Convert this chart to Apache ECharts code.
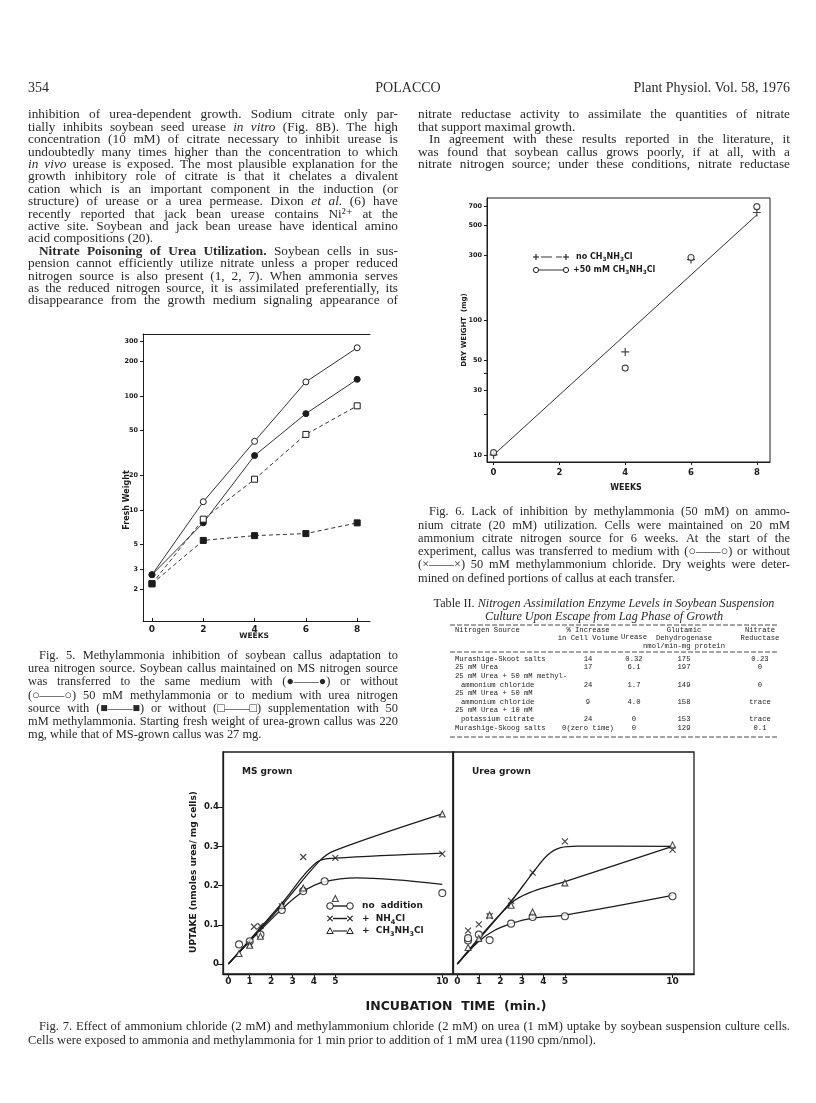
<!DOCTYPE html>
<html><head><meta charset="utf-8">
<script src="https://cdn.jsdelivr.net/npm/echarts@6/dist/echarts.min.js"></script>
<style>html,body{margin:0;padding:0;background:#fff}#c{width:816px;height:1103px}</style>
</head><body><div id="c"></div>
<script>
// ================= DATA =================
const fig5Weeks = [0, 2, 4, 6, 8];
const fig5MSwithMA = [2.7, 7.7, 30, 70, 140];
const fig5MSwithoutMA = [2.7, 11.8, 40, 133, 265];
const fig5UreaWithMA = [2.25, 5.4, 5.95, 6.2, 7.7];
const fig5UreaWithoutMA = [2.25, 8.3, 18.6, 46, 82];
const fig5XTicks = [0, 2, 4, 6, 8];
const fig5YTicks = [2, 3, 5, 10, 20, 50, 100, 200, 300];

const fig6Weeks = [0, 4, 6, 8];
const fig6NoMA = [10, 58, 280, 625];
const fig6WithMA = [10.4, 44, 290, 690];
const fig6FitWeeks = [0, 8];
const fig6FitDry = [10, 600];
const fig6XTicks = [0, 2, 4, 6, 8];
const fig6YLabels = [10, 30, 50, 100, 300, 500, 700];
const fig6YTicks = [10, 20, 30, 40, 50, 100, 300, 500, 700];

const fig7XTicks = [0, 1, 2, 3, 4, 5, 10];
const fig7YTicks = [0, 0.1, 0.2, 0.3, 0.4];
const msNoAddT = [0.5, 1, 1.5, 2.5, 3.5, 4.5, 10];
const msNoAddV = [0.05, 0.058, 0.075, 0.138, 0.186, 0.211, 0.181];
const msNH4T = [1, 1.2, 1.5, 2.5, 3.5, 5, 10];
const msNH4V = [0.05, 0.095, 0.097, 0.147, 0.273, 0.271, 0.281];
const msMAT = [0.5, 1, 1.5, 2.5, 3.5, 5, 10];
const msMAV = [0.027, 0.048, 0.071, 0.15, 0.194, 0.167, 0.383];
const msNoAddCurveT = [0, 1, 2.5, 3.5, 4.5, 6, 10];
const msNoAddCurveV = [0, 0.058, 0.14, 0.185, 0.21, 0.22, 0.203];
const msNH4CurveT = [0, 2.5, 4.2, 5, 10];
const msNH4CurveV = [0, 0.155, 0.262, 0.27, 0.283];
const msMACurveT = [0, 2.5, 4.3, 5, 10];
const msMACurveV = [0, 0.15, 0.265, 0.29, 0.383];
const urNoAddT = [0.5, 0.5, 1, 1.5, 2.5, 3.5, 5, 10];
const urNoAddV = [0.06, 0.066, 0.075, 0.061, 0.103, 0.12, 0.122, 0.173];
const urNH4T = [0.5, 1, 1.5, 2.5, 3.5, 5, 10];
const urNH4V = [0.085, 0.101, 0.122, 0.161, 0.233, 0.313, 0.292];
const urMAT = [0.5, 1, 1.5, 2.5, 3.5, 5, 10];
const urMAV = [0.042, 0.065, 0.125, 0.15, 0.133, 0.207, 0.304];
const urNoAddCurveT = [0, 1, 1.7, 2.5, 3.5, 5, 10];
const urNoAddCurveV = [0, 0.058, 0.085, 0.103, 0.117, 0.125, 0.175];
const urNH4CurveT = [0, 2.5, 3.5, 4.2, 4.8, 5.6, 10];
const urNH4CurveV = [0, 0.16, 0.232, 0.278, 0.297, 0.301, 0.3];
const urMACurveT = [0, 2.5, 3.5, 5, 10];
const urMACurveV = [0, 0.155, 0.185, 0.21, 0.3];

const tblSources = [["Murashige-Skoot salts"], ["25 mM Urea"], ["25 mM Urea + 50 mM methyl-", "ammonium chloride"], ["25 mM Urea + 50 mM", "ammonium chloride"], ["25 mM Urea + 10 mM", "potassium citrate"], ["Murashige-Skoog salts"]];
const tblIncrease = ["14", "17", "24", "9", "24", "0(zero time)"];
const tblUrease = ["0.32", "6.1", "1.7", "4.0", "0", "0"];
const tblGDH = ["175", "197", "149", "158", "153", "129"];
const tblNR = ["0.23", "0", "0", "trace", "trace", "0.1"];

// ================= STYLE / LAYOUT =================
const INK = '#1c1c1c';
const TXT = '#2a2a2a';
const SERIF = '"Liberation Serif", "Times New Roman", "DejaVu Serif", serif';
const SANSB = '"DejaVu Sans", "Liberation Sans", sans-serif';
const MONO = '"Liberation Mono", "DejaVu Sans Mono", monospace';

function pairs(xs, ys) { return xs.map((x, i) => [x, ys[i]]); }

const mc = document.createElement('canvas').getContext('2d');
function fnt(st, size) { return (st === 'i' ? 'italic ' : '') + (st === 'b' ? 'bold ' : '') + size.toFixed(2) + 'px ' + SERIF; }
function measure(t, f) { mc.font = f; return mc.measureText(t).width; }
function tokens(line) {
  const out = []; const re = /\{([ib]):([^}]*)\}|([^{}]+)/g; let m;
  while ((m = re.exec(line))) {
    const st = m[1] || 'n'; const t = m[1] ? m[2] : m[3];
    t.split(' ').forEach(w => { if (w !== '') out.push({ w, st }); });
  }
  return out;
}
const G = [];
function txt(x, y, text, font, align, rot, color) {
  const e = { type: 'text', x, y, silent: true, style: { text, font, fill: color || INK, align: align || 'left', verticalAlign: 'middle' } };
  if (rot) e.rotation = rot;
  G.push(e); return e;
}
function block(lines, x0, y0, pitch, width, base) {
  let scale = 1;
  lines.forEach(l => {
    const tk = tokens(l[0]);
    const nat = (l[1] || 0) + tk.reduce((s, t) => s + measure(t.w, fnt(t.st, base)), 0) + (tk.length - 1) * measure(' ', fnt('n', base));
    if (!l[2]) scale = Math.min(scale, (width - 1) / nat);
  });
  const size = base * Math.min(1, scale);
  const sp = measure(' ', fnt('n', size));
  lines.forEach((l, i) => {
    const tk = tokens(l[0]);
    const ws = tk.map(t => measure(t.w, fnt(t.st, size)));
    const ind = l[1] || 0;
    const sum = ws.reduce((a, b) => a + b, 0);
    const gap = (l[2] || tk.length < 2) ? sp : (width - ind - sum) / (tk.length - 1);
    let x = x0 + ind; const y = y0 + i * pitch;
    tk.forEach((t, j) => { txt(x, y, t.w, fnt(t.st, size), 'left', 0, TXT); x += ws[j] + gap; });
  });
}
function centered(line, cx, y, size) {
  const tk = tokens(line); const sp = measure(' ', fnt('n', size));
  const ws = tk.map(t => measure(t.w, fnt(t.st, size)));
  const tot = ws.reduce((a, b) => a + b, 0) + sp * (tk.length - 1);
  let x = cx - tot / 2;
  tk.forEach((t, j) => { txt(x, y, t.w, fnt(t.st, size), 'left', 0, TXT); x += ws[j] + sp; });
}

// ---------- page header ----------
txt(28, 88, '354', '14px ' + SERIF, 'left', 0, TXT);
txt(408, 88, 'POLACCO', '14px ' + SERIF, 'center', 0, TXT);
txt(790, 88, 'Plant Physiol. Vol. 58, 1976', '14px ' + SERIF, 'right', 0, TXT);

// ---------- body text ----------
const leftBody = [
  ['inhibition of urea-dependent growth. Sodium citrate only par-'],
  ['tially inhibits soybean seed urease {i:in vitro} (Fig. 8B). The high'],
  ['concentration (10 mM) of citrate necessary to inhibit urease is'],
  ['undoubtedly many times higher than the concentration to which'],
  ['{i:in vivo} urease is exposed. The most plausible explanation for the'],
  ['growth inhibitory role of citrate is that it chelates a divalent'],
  ['cation which is an important component in the induction (or'],
  ['structure) of urease or a urea permease. Dixon {i:et al.} (6) have'],
  ['recently reported that jack bean urease contains Ni²⁺ at the'],
  ['active site. Soybean and jack bean urease have identical amino'],
  ['acid compositions (20).', 0, true],
  ['{b:Nitrate Poisoning of Urea Utilization.} Soybean cells in sus-', 11],
  ['pension cannot efficiently utilize nitrate unless a proper reduced'],
  ['nitrogen source is also present (1, 2, 7). When ammonia serves'],
  ['as the reduced nitrogen source, it is assimilated preferentially, its'],
  ['disappearance from the growth medium signaling appearance of']
];
const rightBody = [
  ['nitrate reductase activity to assimilate the quantities of nitrate'],
  ['that support maximal growth.', 0, true],
  ['In agreement with these results reported in the literature, it', 11],
  ['was found that soybean callus grows poorly, if at all, with a'],
  ['nitrate nitrogen source; under these conditions, nitrate reductase']
];
block(leftBody, 28, 115, 12.4, 370, 13.3);
block(rightBody, 418, 115, 12.4, 372, 13.3);

// ---------- captions ----------
const cap5 = [
  ['Fig. 5. Methylammonia inhibition of soybean callus adaptation to', 11],
  ['urea nitrogen source. Soybean callus maintained on MS nitrogen source'],
  ['was transferred to the same medium with (●——●) or without'],
  ['(○——○) 50 mM methylammonia or to medium with urea nitrogen'],
  ['source with (■——■) or without (□——□) supplementation with 50'],
  ['mM methylammonia. Starting fresh weight of urea-grown callus was 220'],
  ['mg, while that of MS-grown callus was 27 mg.', 0, true]
];
const cap6 = [
  ['Fig. 6. Lack of inhibition by methylammonia (50 mM) on ammo-', 11],
  ['nium citrate (20 mM) utilization. Cells were maintained on 20 mM'],
  ['ammonium citrate nitrogen source for 6 weeks. At the start of the'],
  ['experiment, callus was transferred to medium with (○——○) or without'],
  ['(×——×) 50 mM methylammonium chloride. Dry weights were deter-'],
  ['mined on defined portions of callus at each transfer.', 0, true]
];
const cap7 = [
  ['Fig. 7. Effect of ammonium chloride (2 mM) and methylammonium chloride (2 mM) on urea (1 mM) uptake by soybean suspension culture cells.', 11],
  ['Cells were exposed to ammonia and methylammonia for 1 min prior to addition of 1 mM urea (1190 cpm/nmol).', 0, true]
];
block(cap5, 28, 656, 13.1, 370, 12.4);
block(cap6, 418, 512, 13.3, 372, 12.4);
block(cap7, 28, 1027, 14, 762, 12.6);

// ---------- Table II ----------
centered('Table II. {i:Nitrogen} {i:Assimilation} {i:Enzyme} {i:Levels} {i:in} {i:Soybean} {i:Suspension}', 604, 604, 12.2);
centered('{i:Culture} {i:Upon} {i:Escape} {i:from} {i:Lag} {i:Phase} {i:of} {i:Growth}', 604, 617, 12.2);
const TF = '7.2px ' + MONO;
const tc = { name: 455, inc: 588, ure: 634, gdh: 684, nr: 760 };
function dashed(x1, x2, y) { G.push({ type: 'line', silent: true, shape: { x1, y1: y, x2, y2: y }, style: { stroke: INK, lineWidth: 0.8, lineDash: [5, 2] } }); }
dashed(450, 778, 625);
txt(tc.name, 630, 'Nitrogen Source', TF);
txt(tc.inc, 630, '% Increase', TF, 'center');
txt(tc.inc, 638, 'in Cell Volume', TF, 'center');
txt(tc.ure, 637, 'Urease', TF, 'center');
txt(tc.gdh, 630, 'Glutamic', TF, 'center');
txt(tc.gdh, 638, 'Dehydrogenase', TF, 'center');
txt(tc.gdh, 646, 'nmol/min-mg protein', TF, 'center');
txt(tc.nr, 630, 'Nitrate', TF, 'center');
txt(tc.nr, 638, 'Reductase', TF, 'center');
dashed(450, 778, 652);
let ry = 659;
tblSources.forEach((src, i) => {
  src.forEach((s, k) => {
    txt(tc.name + (k > 0 ? 6 : 0), ry, s, TF);
    if (k === src.length - 1) {
      txt(tc.inc, ry, tblIncrease[i], TF, 'center');
      txt(tc.ure, ry, tblUrease[i], TF, 'center');
      txt(tc.gdh, ry, tblGDH[i], TF, 'center');
      txt(tc.nr, ry, tblNR[i], TF, 'center');
    }
    ry += 8.6;
  });
});
dashed(450, 778, 737);

// ---------- axis titles / annotations ----------
txt(127, 500, 'Fresh Weight', 'bold 8px ' + SANSB, 'center', Math.PI / 2);
txt(254, 636, 'WEEKS', 'bold 7.5px ' + SANSB, 'center');
txt(464, 330, 'DRY WEIGHT  (mg)', 'bold 7px ' + SANSB, 'center', Math.PI / 2);
txt(626, 488, 'WEEKS', 'bold 8px ' + SANSB, 'center');
txt(194, 872, 'UPTAKE (nmoles urea/ mg cells)', 'bold 9px ' + SANSB, 'center', Math.PI / 2);
txt(456, 1007, 'INCUBATION  TIME  (min.)', 'bold 12.5px ' + SANSB, 'center');
txt(242, 772, 'MS grown', 'bold 9px ' + SANSB);
txt(472, 772, 'Urea grown', 'bold 9px ' + SANSB);

function gl(x1, y1, x2, y2, w) { G.push({ type: 'line', silent: true, shape: { x1, y1, x2, y2 }, style: { stroke: INK, lineWidth: w || 1 } }); }
function gc(cx, cy, r) { G.push({ type: 'circle', silent: true, shape: { cx, cy, r }, style: { fill: '#fff', stroke: INK, lineWidth: 1 } }); }
function gx(cx, cy, r) { gl(cx - r, cy - r, cx + r, cy + r, 1.1); gl(cx - r, cy + r, cx + r, cy - r, 1.1); }
function gp(cx, cy, r) { gl(cx - r, cy, cx + r, cy, 1.1); gl(cx, cy - r, cx, cy + r, 1.1); }
function gt(cx, cy, r) { G.push({ type: 'polygon', silent: true, shape: { points: [[cx, cy - r], [cx + r, cy + r * 0.8], [cx - r, cy + r * 0.8]] }, style: { fill: '#fff', stroke: INK, lineWidth: 1 } }); }
function richText(x, y, str, size) {
  G.push({ type: 'text', x, y, silent: true, style: { text: str, verticalAlign: 'middle', rich: {
    a: { fontFamily: SANSB, fontWeight: 'bold', fontSize: size, fill: INK, lineHeight: size + 4, verticalAlign: 'middle' },
    s: { fontFamily: SANSB, fontWeight: 'bold', fontSize: size * 0.72, fill: INK, lineHeight: (size + 4) / 2, verticalAlign: 'bottom' } } } });
}
gp(536, 257, 3); gl(541, 257, 552, 257, 0.9); gl(556, 257, 562, 257, 0.9); gp(566, 257, 3);
richText(576, 257, '{a|no CH}{s|3}{a|NH}{s|3}{a|Cl}', 8);
gc(536, 270, 2.6); gl(539, 270, 563, 270, 0.9); gc(566, 270, 2.6);
richText(573, 270, '{a|+50 mM CH}{s|3}{a|NH}{s|3}{a|Cl}', 8);
gc(330, 906, 3.3); gl(333, 906, 347, 906, 1.4); gc(350, 906, 3.3);
richText(362, 906, '{a|no  addition}', 9);
gx(330, 918.5, 2.6); gl(333, 918.5, 347, 918.5, 1.4); gx(350, 918.5, 2.6);
richText(362, 918.5, '{a|+  NH}{s|4}{a|Cl}', 9);
gt(330, 931, 3.2); gl(333, 931, 347, 931, 1.1); gt(350, 931, 3.2);
richText(362, 931, '{a|+  CH}{s|3}{a|NH}{s|3}{a|Cl}', 9);

// ================= CHART =================
const lblFont = { fontFamily: SANSB, fontWeight: 'bold', color: INK };
function valAxis(gi, min, max, pos, ticks, labels, o) {
  o = o || {};
  return {
    gridIndex: gi, type: o.log ? 'log' : 'value', logBase: 10, min, max, position: pos,
    axisLine: { show: true, onZero: false, lineStyle: { color: INK, width: o.lw || 1 } },
    axisTick: ticks ? { show: true, inside: !!o.inside, length: o.tl || 3, customValues: ticks, lineStyle: { color: INK, width: 1 } } : { show: false },
    axisLabel: labels ? Object.assign({ show: true, customValues: labels, fontSize: o.fs || 8, margin: o.margin || 4, formatter: o.fmt }, lblFont) : { show: false },
    splitLine: { show: false }, minorTick: { show: false }
  };
}
const logFmt = v => String(Math.round(v));
const f7Fmt = v => (Math.abs(v) < 1e-9 ? '0' : v.toFixed(1));

const xAxes = [
  valAxis(0, -0.35, 8.5, 'bottom', fig5XTicks, fig5XTicks, { fs: 9, inside: true }),
  valAxis(0, -0.35, 8.5, 'top', null, null),
  valAxis(1, -0.2, 8.4, 'bottom', fig6XTicks, fig6XTicks, { fs: 8.5, margin: 6 }),
  valAxis(2, -0.25, 10.5, 'bottom', fig7XTicks, fig7XTicks, { fs: 9, tl: 4, lw: 1.3, margin: 3 }),
  valAxis(3, -0.2, 11, 'bottom', fig7XTicks, fig7XTicks, { fs: 9, tl: 4, lw: 1.3, margin: 3 })
];
const yAxes = [
  valAxis(0, 1.06, 350, 'left', fig5YTicks, fig5YTicks, { log: true, fs: 6.5, fmt: logFmt, margin: 5 }),
  valAxis(1, 8.87, 800, 'left', fig6YTicks, fig6YLabels, { log: true, fs: 6.5, fmt: logFmt, margin: 5 }),
  valAxis(2, -0.0255, 0.541, 'left', fig7YTicks, fig7YTicks, { fs: 8.5, tl: 5, fmt: f7Fmt, margin: 4, lw: 1.3 }),
  valAxis(3, -0.0255, 0.541, 'left', null, null, { lw: 1.3 })
];

function lineS(xi, yi, data, sym, filled, dashed, size) {
  return { type: 'line', xAxisIndex: xi, yAxisIndex: yi, data, symbol: sym, symbolSize: size || 6, showSymbol: true, silent: true,
    itemStyle: { color: filled ? INK : '#fff', borderColor: INK, borderWidth: 1 },
    lineStyle: { color: INK, width: 0.9, type: dashed ? [4, 3] : 'solid' }, z: 3 };
}
function scat(xi, yi, data, sym, size) {
  const path = sym.startsWith('path://');
  return { type: 'scatter', xAxisIndex: xi, yAxisIndex: yi, data, symbol: sym, symbolSize: size, silent: true,
    itemStyle: path ? { color: 'rgba(0,0,0,0)', borderColor: INK, borderWidth: 1.2 } : { color: '#fff', borderColor: INK, borderWidth: 1.1 }, z: 4 };
}
function curve(xi, yi, data) {
  return { type: 'line', xAxisIndex: xi, yAxisIndex: yi, data, smooth: 0.35, symbol: 'none', showSymbol: false, silent: true,
    lineStyle: { color: INK, width: 1.3 }, z: 2 };
}
const XSYM = 'path://M0,0L10,10M10,0L0,10';
const PSYM = 'path://M5,0L5,10M0,5L10,5';

const series = [
  lineS(0, 0, pairs(fig5Weeks, fig5MSwithoutMA), 'circle', false, false, 6),
  lineS(0, 0, pairs(fig5Weeks, fig5MSwithMA), 'circle', true, false, 6),
  lineS(0, 0, pairs(fig5Weeks, fig5UreaWithoutMA), 'rect', false, true, 6),
  lineS(0, 0, pairs(fig5Weeks, fig5UreaWithMA), 'rect', true, true, 6),
  { type: 'line', xAxisIndex: 2, yAxisIndex: 1, data: pairs(fig6FitWeeks, fig6FitDry), symbol: 'none', silent: true, lineStyle: { color: INK, width: 0.9 } },
  scat(2, 1, pairs(fig6Weeks, fig6NoMA), PSYM, 8),
  scat(2, 1, pairs(fig6Weeks, fig6WithMA), 'circle', 6),
  curve(3, 2, pairs(msNoAddCurveT, msNoAddCurveV)),
  curve(3, 2, pairs(msNH4CurveT, msNH4CurveV)),
  curve(3, 2, pairs(msMACurveT, msMACurveV)),
  scat(3, 2, pairs(msNoAddT, msNoAddV), 'circle', 7),
  scat(3, 2, pairs(msNH4T, msNH4V), XSYM, 6),
  scat(3, 2, pairs(msMAT, msMAV), 'triangle', 6),
  curve(4, 3, pairs(urNoAddCurveT, urNoAddCurveV)),
  curve(4, 3, pairs(urNH4CurveT, urNH4CurveV)),
  curve(4, 3, pairs(urMACurveT, urMACurveV)),
  scat(4, 3, pairs(urNoAddT, urNoAddV), 'circle', 7),
  scat(4, 3, pairs(urNH4T, urNH4V), XSYM, 6),
  scat(4, 3, pairs(urMAT, urMAV), 'triangle', 6)
];

const option = {
  animation: false,
  backgroundColor: '#ffffff',
  grid: [
    { left: 143, top: 334, width: 227, height: 287, show: false },
    { left: 487, top: 198, width: 283, height: 264, show: true, borderColor: INK, borderWidth: 1, backgroundColor: 'transparent' },
    { left: 223, top: 752, width: 230, height: 222, show: true, borderColor: INK, borderWidth: 1.3, backgroundColor: 'transparent' },
    { left: 453, top: 752, width: 241, height: 222, show: true, borderColor: INK, borderWidth: 1.3, backgroundColor: 'transparent' }
  ],
  xAxis: xAxes,
  yAxis: yAxes,
  series,
  graphic: { elements: G }
};
const chart = echarts.init(document.getElementById('c'), null, { width: 816, height: 1103, renderer: 'canvas' });
chart.setOption(option);
</script>
</body></html>
